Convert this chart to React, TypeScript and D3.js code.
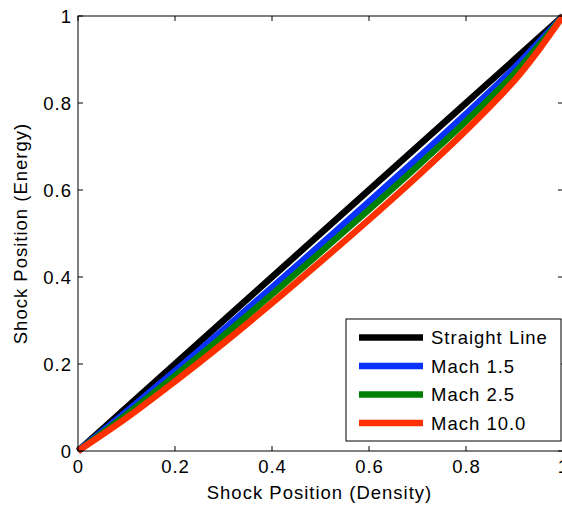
import React from "react";
import * as d3 from "d3";

const xs = [0, 0.1, 0.2, 0.3, 0.4, 0.5, 0.6, 0.7, 0.8, 0.9, 0.95, 1.0];
const straight = [0, 0.1, 0.2, 0.3, 0.4, 0.5, 0.6, 0.7, 0.8, 0.9, 0.95, 1.0];
const mach15 = [0, 0.091, 0.184, 0.279, 0.376, 0.474, 0.573, 0.673, 0.775, 0.881, 0.94, 1.0];
const mach25 = [0, 0.084, 0.173, 0.265, 0.36, 0.457, 0.555, 0.655, 0.758, 0.868, 0.932, 1.0];
const mach10 = [0, 0.076, 0.16, 0.248, 0.34, 0.435, 0.532, 0.632, 0.737, 0.852, 0.922, 1.0];

const seriesNames = ["Straight Line", "Mach 1.5", "Mach 2.5", "Mach 10.0"];
const seriesColors = ["#000000", "#0a32ff", "#008000", "#ff3000"];
const seriesValues = [straight, mach15, mach25, mach10];

const xTicks = [0, 0.2, 0.4, 0.6, 0.8, 1];
const yTicks = [0, 0.2, 0.4, 0.6, 0.8, 1];
const xTickLabels = ["0", "0.2", "0.4", "0.6", "0.8", "1"];
const yTickLabels = ["0", "0.2", "0.4", "0.6", "0.8", "1"];

export default function App() {
  const W = 562, H = 505;
  const left = 78, right = 563, top = 16, bottom = 451;
  const x = d3.scaleLinear().domain([0, 1]).range([left, right]);
  const y = d3.scaleLinear().domain([0, 1]).range([bottom, top]);
  const font = "'Liberation Sans', Arial, Helvetica, sans-serif";
  const fs = 18.5;
  const ls = 1;
  const tl = 5;

  const line = d3
    .line<[number, number]>()
    .x((d) => x(d[0]))
    .y((d) => y(d[1]))
    .curve(d3.curveCatmullRom.alpha(0.5));

  const legX = 346, legY = 319, legW = 215, legH = 122;
  const rowY = [337.5, 366, 394.5, 423];

  return (
    <svg
      width={W}
      height={H}
      style={{ position: "absolute", left: 0, top: 0, background: "#fff" }}
    >
      <rect x={0} y={0} width={W} height={H} fill="#fff" />
      {seriesValues.map((vals, i) => (
        <path
          key={i}
          d={line(xs.map((xv, j) => [xv, vals[j]] as [number, number])) || ""}
          fill="none"
          stroke={seriesColors[i]}
          strokeWidth={6.5}
          strokeLinejoin="round"
        />
      ))}
      <rect
        x={left}
        y={top}
        width={right - left}
        height={bottom - top}
        fill="none"
        stroke="#000"
        strokeWidth={1}
      />
      {xTicks.map((t, i) => (
        <g key={"xt" + i}>
          <line x1={x(t)} x2={x(t)} y1={bottom} y2={bottom - tl} stroke="#000" />
          <line x1={x(t)} x2={x(t)} y1={top} y2={top + tl} stroke="#000" />
          <text
            x={x(t) + ls / 2}
            y={472.5}
            textAnchor="middle"
            fontFamily={font}
            fontSize={fs}
            letterSpacing={ls}
            fill="#000"
          >
            {xTickLabels[i]}
          </text>
        </g>
      ))}
      {yTicks.map((t, i) => (
        <g key={"yt" + i}>
          <line x1={left} x2={left + tl} y1={y(t)} y2={y(t)} stroke="#000" />
          <line x1={right} x2={right - tl} y1={y(t)} y2={y(t)} stroke="#000" />
          <text
            x={71 + ls}
            y={y(t)}
            dy="0.36em"
            textAnchor="end"
            fontFamily={font}
            fontSize={fs}
            letterSpacing={ls}
            fill="#000"
          >
            {yTickLabels[i]}
          </text>
        </g>
      ))}
      <text
        x={(left + right) / 2 - 1}
        y={499}
        textAnchor="middle"
        fontFamily={font}
        fontSize={fs}
        letterSpacing={ls}
        fill="#000"
      >
        Shock Position (Density)
      </text>
      <text
        transform={`translate(27, ${(top + bottom) / 2}) rotate(-90)`}
        textAnchor="middle"
        fontFamily={font}
        fontSize={fs}
        letterSpacing={ls}
        fill="#000"
      >
        Shock Position (Energy)
      </text>
      <rect x={legX} y={legY} width={legW} height={legH} fill="#fff" stroke="#000" strokeWidth={1} />
      {seriesNames.map((name, i) => (
        <g key={"lg" + i}>
          <line
            x1={359}
            x2={423}
            y1={rowY[i]}
            y2={rowY[i]}
            stroke={seriesColors[i]}
            strokeWidth={6.5}
          />
          <text
            x={431}
            y={rowY[i]}
            dy="0.36em"
            fontFamily={font}
            fontSize={fs}
            letterSpacing={ls}
            fill="#000"
          >
            {name}
          </text>
        </g>
      ))}
    </svg>
  );
}
